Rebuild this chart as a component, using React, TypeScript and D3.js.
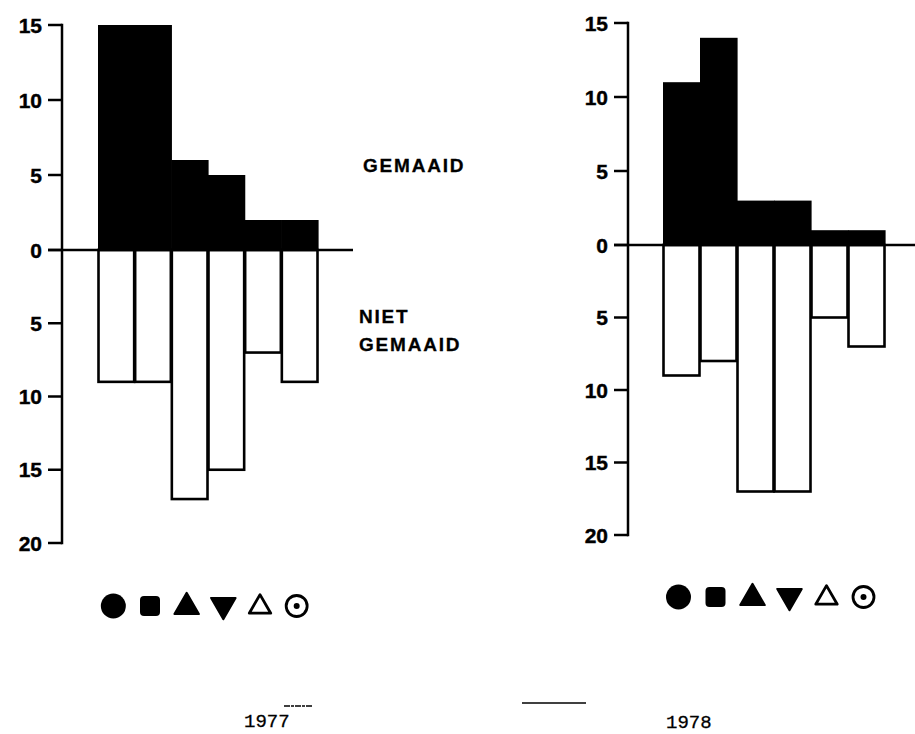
import React from 'react';
import * as d3 from 'd3';

// bar heights, one per species symbol
const species = ['circle', 'square', 'triangle', 'triangleDown', 'triangleOpen', 'circleDot'];
const mown1977 = [15, 15, 6, 5, 2, 2];
const notMown1977 = [9, 9, 17, 15, 7, 9];
const mown1978 = [11, 14, 3, 3, 1, 1];
const notMown1978 = [9, 8, 17, 17, 5, 7];
const tickValues = [15, 10, 5, 0, -5, -10, -15, -20];

const W = 915;
const H = 734;
const tickFont = "'Liberation Sans', Arial, sans-serif";

interface PanelProps {
	up: number[];
	down: number[];
	axisX: number;
	yRange: [number, number, number]; // y of -20, 0, 15
	barX: [number, number];
	zeroEnd: number;
	symbolY: number;
}

function Symbol({ kind, x, y }: { kind: string; x: number; y: number }) {
	if (kind === 'circle') return <circle cx={x} cy={y} r={12.5} fill="#000" />;
	if (kind === 'square') return <rect x={x - 10} y={y - 10} width={20} height={20} rx={4} fill="#000" />;
	if (kind === 'circleDot') return (
		<g>
			<circle cx={x} cy={y} r={10.5} fill="none" stroke="#000" strokeWidth={2.8} />
			<circle cx={x} cy={y} r={3} fill="#000" />
		</g>
	);
	const filled = d3.symbol().type(d3.symbolTriangle2).size(430)();
	const open = d3.symbol().type(d3.symbolTriangle2).size(330)();
	if (kind === 'triangleDown') return <path d={filled!} transform={`translate(${x},${y - 1}) rotate(180)`} fill="#000" stroke="#000" strokeWidth={2} strokeLinejoin="round" />;
	if (kind === 'triangleOpen') return <path d={open!} transform={`translate(${x},${y + 1})`} fill="none" stroke="#000" strokeWidth={2.8} strokeLinejoin="round" />;
	return <path d={filled!} transform={`translate(${x},${y + 1})`} fill="#000" stroke="#000" strokeWidth={2} strokeLinejoin="round" />;
}

function Panel({ up, down, axisX, yRange, barX, zeroEnd, symbolY }: PanelProps) {
	const y = d3.scaleLinear().domain([-20, 0, 15]).range(yRange);
	const x = d3.scaleBand<string>().domain(species).range(barX).padding(0);
	const bw = x.bandwidth();

	return (
		<g>
			{/* gemaaid: filled bars, touching */}
			{up.map((v, i) => (
				<rect key={'u' + i} x={x(species[i])!} y={y(v)} width={bw + 0.6} height={y(0) - y(v)} fill="#000" />
			))}
			{/* niet gemaaid: open bars */}
			{down.map((v, i) => (
				<rect key={'d' + i} x={x(species[i])! + 0.5} y={y(0)} width={bw - 1} height={y(-v) - y(0)}
					fill="#fff" stroke="#000" strokeWidth={2.6} />
			))}
			{/* zero line */}
			<line x1={axisX - 14} x2={zeroEnd} y1={y(0)} y2={y(0)} stroke="#000" strokeWidth={2.5} />
			{/* y axis */}
			<line x1={axisX} x2={axisX} y1={y(15) - 1.2} y2={y(-20) + 1.2} stroke="#000" strokeWidth={2.5} />
			{tickValues.map(t => (
				<g key={t}>
					<line x1={axisX - 14} x2={axisX} y1={y(t)} y2={y(t)} stroke="#000" strokeWidth={2.5} />
					<text x={axisX - 20} y={y(t)} dy="0.36em" textAnchor="end" fontFamily={tickFont}
						fontWeight="bold" fontSize={21} stroke="#000" strokeWidth={0.4}>{Math.abs(t)}</text>
				</g>
			))}
			{species.map(s => (
				<Symbol key={s} kind={s} x={x(s)! + bw / 2 - 3} y={symbolY} />
			))}
		</g>
	);
}

export default function App() {
	return (
		<svg width={W} height={H} style={{ position: 'absolute', left: 0, top: 0, background: '#fff' }}>
			<rect width={W} height={H} fill="#fff" />
			<Panel up={mown1977} down={notMown1977} axisX={62} yRange={[543, 250, 25]}
				barX={[98, 318]} zeroEnd={353} symbolY={606} />
			<Panel up={mown1978} down={notMown1978} axisX={628} yRange={[535, 245, 23]}
				barX={[663, 885]} zeroEnd={915} symbolY={597} />

			<g fontFamily={tickFont} fontWeight="bold" fontSize={19} stroke="#000" strokeWidth={0.3}>
				<text x={363} y={172} letterSpacing={1.8}>GEMAAID</text>
				<text x={359} y={323} letterSpacing={1.8}>NIET</text>
				<text x={359} y={351} letterSpacing={1.8}>GEMAAID</text>
			</g>

			<g fontFamily="'Liberation Mono', 'DejaVu Sans Mono', monospace" fontSize={19}
				stroke="#000" strokeWidth={0.3}>
				<text x={244} y={727}>1977</text>
				<text x={666} y={728}>1978</text>
			</g>
			<line x1={284} x2={312} y1={706} y2={706} stroke="#000" strokeWidth={1.3} strokeDasharray="6 1 3 1" />
			<line x1={522} x2={586} y1={703} y2={703} stroke="#000" strokeWidth={1.5} />
		</svg>
	);
}
